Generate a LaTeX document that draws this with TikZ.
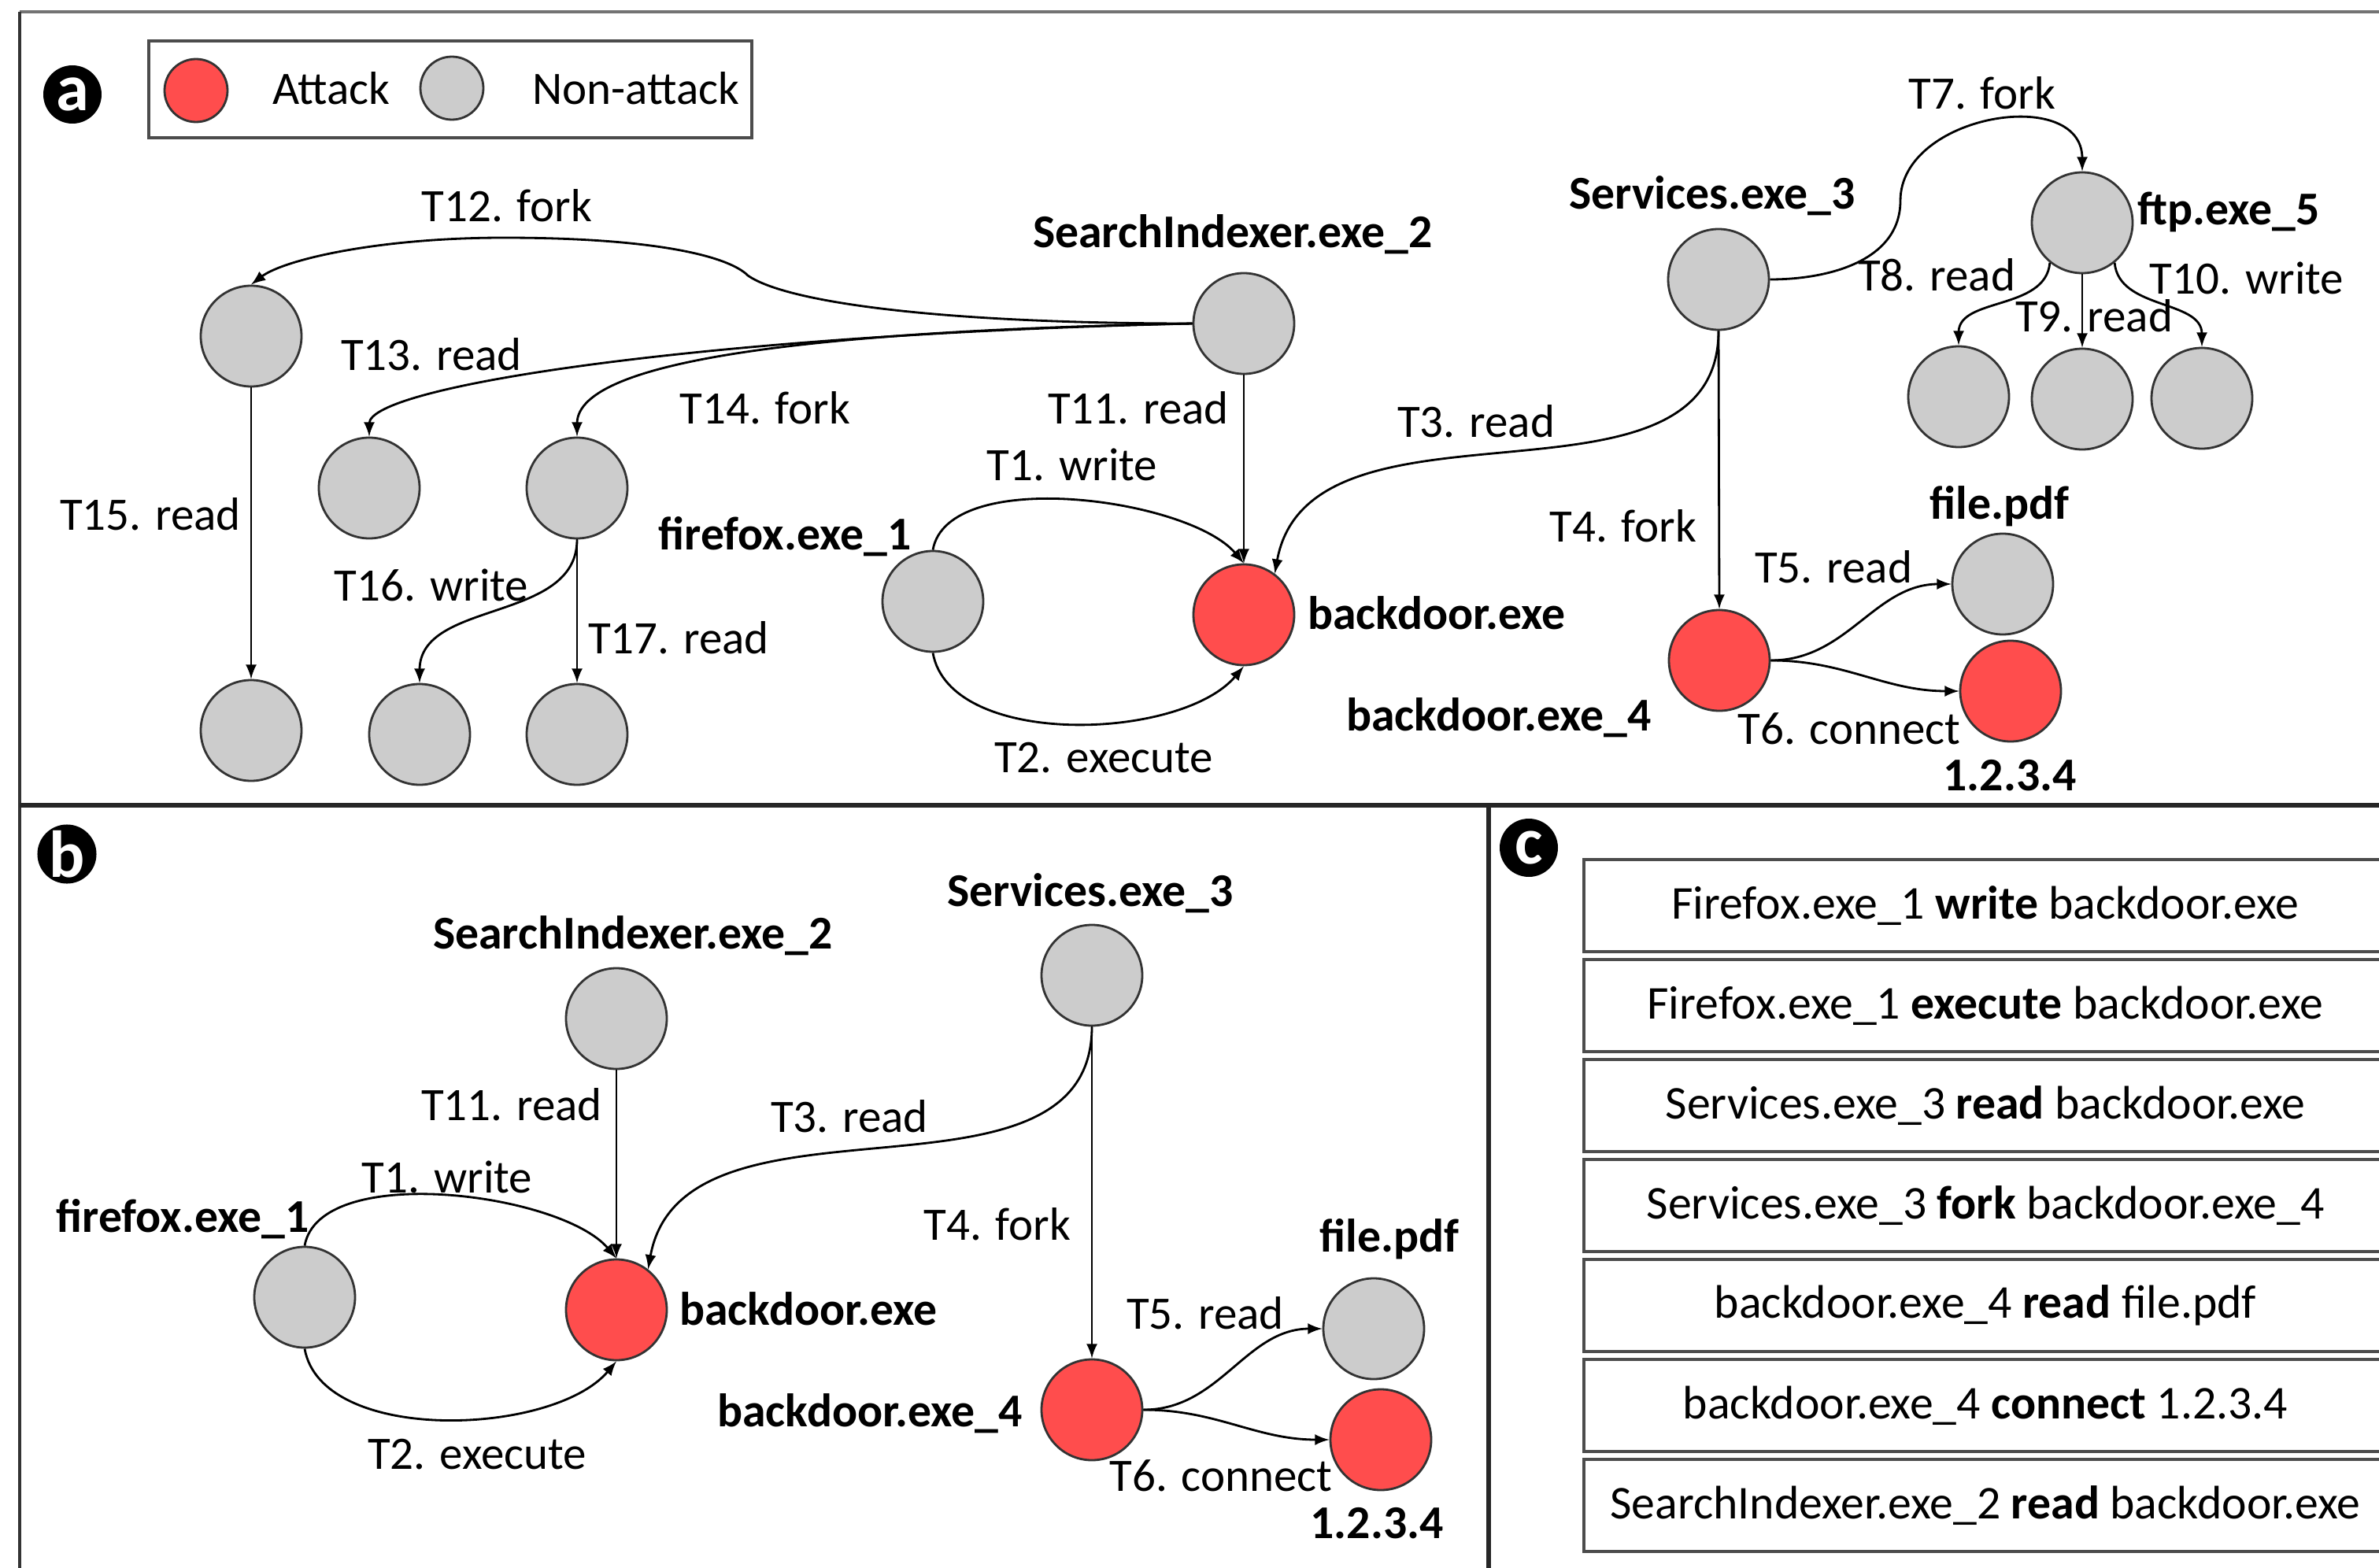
\documentclass[tikz,border=0pt]{standalone}
\usepackage{fontspec}
\setmainfont{Carlito}
\usetikzlibrary{positioning}
\definecolor{attackred}{RGB}{255,77,77}
\definecolor{benigngray}{RGB}{204,204,204}

\begin{document}
\begin{tikzpicture}[-latex, thick,
            attack/.style ={circle, draw=black!80, fill=attackred, line width=0.8pt,
            minimum size=1.28cm, inner sep=0pt},
            benign/.style ={attack, fill=benigngray},
            small/.style ={minimum size=0.80cm},
            nlabel/.style ={font=\fontsize{17}{20}\selectfont\bfseries, anchor=mid, inner sep=0pt, yshift=-0.1cm},
            elabel/.style ={font=\fontsize{16.8}{20}\selectfont, anchor=mid, inner sep=0pt, yshift=-0.1cm},
            badge/.style ={circle, fill=black, text=white, inner sep=0pt, minimum size=0.74cm,
            font=\fontsize{24}{24}\selectfont\bfseries},
            event/.style ={draw=black!70, line width=1.2pt, minimum width=10.2cm, minimum height=1.17cm,
            inner sep=0pt, font=\fontsize{17}{20}\selectfont}]

        \useasboundingbox (0,0) rectangle (30.22,-19.92);
        \clip (0,0) rectangle (30.22,-19.92);

        % frame and panels
        \draw[-, black!55, line width=1.4pt] (0.25,-0.15) -- (30.22,-0.15);
        \draw[-, black!80, line width=1pt] (0.25,-0.15) -- (0.25,-19.92);
        \draw[-, black!85, line width=1.5pt] (0.25,-10.23) -- (30.22,-10.23);
        \draw[-, black!85, line width=1.5pt] (18.91,-10.23) -- (18.91,-19.92);

        %%% panel a
        \node[badge] (pa) at (0.92, -1.20) {a};
        \node[draw=black!70, line width=1.2pt, minimum width=7.66cm, minimum height=1.23cm] (legend) at (5.72, -1.135) {};
        \node[attack, small] (lgA) at (2.49, -1.15) {};
        \node[elabel] (lgAtxt) at (4.21, -1.14) {Attack};
        \node[benign, small] (lgN) at (5.74, -1.12) {};
        \node[elabel] (lgNtxt) at (8.08, -1.14) {Non-attack};

        \node[benign] (n12) at (3.19, -4.27) {};
        \node[benign] (n13) at (4.69, -6.20) {};
        \node[benign] (n14) at (7.33, -6.20) {};
        \node[benign] (n15) at (3.19, -9.28) {};
        \node[benign] (n16) at (5.33, -9.33) {};
        \node[benign] (n17) at (7.33, -9.33) {};
        \node[benign] (si) at (15.80, -4.11) {};
        \node[benign] (ff) at (11.85, -7.64) {};
        \node[attack] (bd) at (15.80, -7.81) {};
        \node[benign] (sv) at (21.83, -3.55) {};
        \node[attack] (bd4) at (21.84, -8.39) {};
        \node[benign] (pdf) at (25.44, -7.42) {};
        \node[attack] (ip) at (25.54, -8.78) {};
        \node[benign] (ftp) at (26.45, -2.83) {};
        \node[benign] (c8) at (24.88, -5.04) {};
        \node[benign] (c9) at (26.45, -5.07) {};
        \node[benign] (c10) at (27.97, -5.06) {};

        \node[nlabel] (siL) at (15.66, -2.96) {SearchIndexer.exe\_2};
        \node[nlabel] (ffL) at (9.97, -6.80) {firefox.exe\_1};
        \node[nlabel] (bdL) at (18.25, -7.81) {backdoor.exe};
        \node[nlabel] (svL) at (21.75, -2.47) {Services.exe\_3};
        \node[nlabel] (bd4L) at (19.04, -9.10) {backdoor.exe\_4};
        \node[nlabel] (pdfL) at (25.40, -6.41) {file.pdf};
        \node[nlabel] (ipL) at (25.53, -9.86) {1.2.3.4};
        \node[nlabel] (ftpL) at (28.31, -2.67) {ftp.exe\_5};

        \node[elabel] (t1) at (13.62, -5.92) {T1. write};
        \node[elabel] (t2) at (14.02, -9.63) {T2. execute};
        \node[elabel] (t3) at (18.75, -5.37) {T3. read};
        \node[elabel] (t4) at (20.62, -6.70) {T4. fork};
        \node[elabel] (t5) at (23.29, -7.22) {T5. read};
        \node[elabel] (t6) at (23.49, -9.27) {T6. connect};
        \node[elabel] (t7) at (25.18, -1.20) {T7. fork};
        \node[elabel] (t8) at (24.60, -3.51) {T8. read};
        \node[elabel] (t9) at (26.60, -4.03) {T9. read};
        \node[elabel] (t10) at (28.54, -3.55) {T10. write};
        \node[elabel] (t11) at (14.46, -5.20) {T11. read};
        \node[elabel] (t12) at (6.44, -2.63) {T12. fork};
        \node[elabel] (t13) at (5.48, -4.52) {T13. read};
        \node[elabel] (t14) at (9.72, -5.20) {T14. fork};
        \node[elabel] (t15) at (1.91, -6.55) {T15. read};
        \node[elabel] (t16) at (5.48, -7.45) {T16. write};
        \node[elabel] (t17) at (8.62, -8.12) {T17. read};

        \path (ff.north) edge [out=80, in=130, looseness=0.7] (bd.north);
        \path (ff.south) edge [out=-80, in=-130, looseness=0.8] (bd.south);
        \path (sv.south) edge [out=-90, in=80] (bd.53);
        \path (sv.south) edge (bd4.north);
        \path (bd4.east) edge [out=0, in=180] (pdf.west);
        \path (bd4.east) edge [out=0, in=180] (ip.west);
        \draw (sv.east) to[out=0, in=-90] (24.14,-2.55) to[out=90, in=90, looseness=1.2] (ftp.north);
        \path (ftp.231) edge [out=-95, in=90] (c8.north);
        \path (ftp.south) edge (c9.north);
        \path (ftp.309) edge [out=-85, in=90] (c10.north);
        \path (si.south) edge (bd.north);
        \draw (si.west) .. controls (12.0,-4.11) and (10.0,-3.85) .. (9.5,-3.5)
              .. controls (9.25,-3.25) and (8.3,-3.02) .. (6.4,-3.02)
              .. controls (4.8,-3.02) and (3.6,-3.3) .. (n12.north);
        \draw (si.west) .. controls (9.0,-4.25) and (4.69,-4.9) .. (n13.north);
        \draw (si.west) .. controls (10.5,-4.2) and (7.33,-4.55) .. (n14.north);
        \path (n12.south) edge (n15.north);
        \path (n14.south) edge [out=-90, in=90] (n16.north);
        \path (n14.south) edge (n17.north);

        %%% panel b
        \node[badge] (pb) at (0.85, -10.85) {b};
        \node[benign] (sib) at (7.83, -12.94) {};
        \node[benign] (ffb) at (3.87, -16.48) {};
        \node[attack] (bdb) at (7.83, -16.64) {};
        \node[benign] (svb) at (13.87, -12.39) {};
        \node[attack] (bd4b) at (13.87, -17.91) {};
        \node[benign] (pdfb) at (17.45, -16.88) {};
        \node[attack] (ipb) at (17.54, -18.29) {};

        \node[nlabel] (sibL) at (8.04, -11.87) {SearchIndexer.exe\_2};
        \node[nlabel] (ffbL) at (2.32, -15.47) {firefox.exe\_1};
        \node[nlabel] (bdbL) at (10.27, -16.65) {backdoor.exe};
        \node[nlabel] (svbL) at (13.85, -11.33) {Services.exe\_3};
        \node[nlabel] (bd4bL) at (11.05, -17.94) {backdoor.exe\_4};
        \node[nlabel] (pdfbL) at (17.65, -15.72) {file.pdf};
        \node[nlabel] (ipbL) at (17.49, -19.36) {1.2.3.4};

        \node[elabel] (t1b) at (5.68, -14.97) {T1. write};
        \node[elabel] (t2b) at (6.06, -18.48) {T2. execute};
        \node[elabel] (t3b) at (10.79, -14.20) {T3. read};
        \node[elabel] (t4b) at (12.67, -15.57) {T4. fork};
        \node[elabel] (t5b) at (15.31, -16.70) {T5. read};
        \node[elabel] (t6b) at (15.51, -18.76) {T6. connect};
        \node[elabel] (t11b) at (6.50, -14.05) {T11. read};

        \path (ffb.north) edge [out=80, in=130, looseness=0.7] (bdb.north);
        \path (ffb.south) edge [out=-80, in=-130, looseness=0.8] (bdb.south);
        \path (svb.south) edge [out=-90, in=80] (bdb.52);
        \path (svb.south) edge (bd4b.north);
        \path (bd4b.east) edge [out=0, in=180] (pdfb.west);
        \path (bd4b.east) edge [out=0, in=180] (ipb.west);
        \path (sib.south) edge (bdb.north);

        %%% panel c
        \node[badge] (pc) at (19.42, -10.77) {c};
        \node[event] (e1) at (25.22, -11.505) {Firefox.exe\_1 \textbf{write} backdoor.exe};
        \node[event] (e2) at (25.22, -12.775) {Firefox.exe\_1 \textbf{execute} backdoor.exe};
        \node[event] (e3) at (25.22, -14.045) {Services.exe\_3 \textbf{read} backdoor.exe};
        \node[event] (e4) at (25.22, -15.315) {Services.exe\_3 \textbf{fork} backdoor.exe\_4};
        \node[event] (e5) at (25.22, -16.585) {backdoor.exe\_4 \textbf{read} file.pdf};
        \node[event] (e6) at (25.22, -17.855) {backdoor.exe\_4 \textbf{connect} 1.2.3.4};
        \node[event] (e7) at (25.22, -19.125) {SearchIndexer.exe\_2 \textbf{read} backdoor.exe};
    \end{tikzpicture}
\end{document}
